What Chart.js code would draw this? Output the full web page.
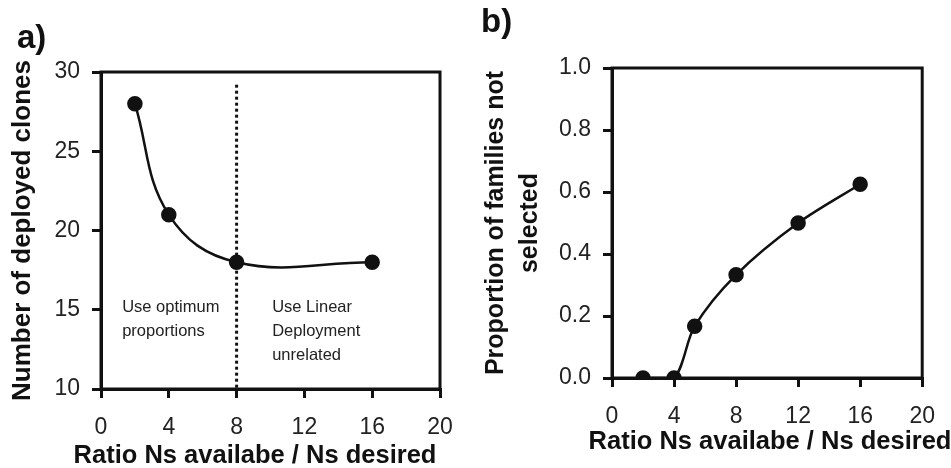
<!DOCTYPE html>
<html>
<head>
<meta charset="utf-8">
<script src="https://cdn.jsdelivr.net/npm/chart.js@4/dist/chart.umd.min.js"></script>
<style>
  html, body { margin: 0; padding: 0; background: #fff; }
  body { width: 951px; height: 468px; position: relative; overflow: hidden; font-family: "Liberation Sans", Arial, sans-serif; }
  .box { position: absolute; top: 0; height: 468px; }
  .panel { position: absolute; font-weight: bold; color: #111; line-height: 1; }
</style>
</head>
<body>
<div class="box" style="left:0;width:475px"><canvas id="chartA"></canvas></div>
<div class="box" style="left:475px;width:476px"><canvas id="chartB"></canvas></div>
<div class="panel" style="left:17px;top:20px;font-size:33px">a)</div>
<div class="panel" style="left:481px;top:4px;font-size:33px">b)</div>
<script>
// panel a
const ratioA = [2, 4, 8, 16];
const clonesA = [28, 21, 18, 18];
const splitX = 8;
const splitTop = 29.2;
const noteLeft = ['Use optimum', 'proportions'];
const noteRight = ['Use Linear', 'Deployment', 'unrelated'];

// panel b
const ratioB = [2, 4, 5.33, 8, 12, 16];
const notSelectedB = [0, 0, 0.167, 0.333, 0.5, 0.625];

const xTitle = 'Ratio Ns availabe / Ns desired';
const ink = '#111';
const fam = '"Liberation Sans", Arial, sans-serif';

// box round the plot area
const frame = {
  id: 'frame',
  afterDraw(chart) {
    const { ctx, chartArea: a } = chart;
    ctx.save();
    ctx.strokeStyle = ink;
    ctx.lineWidth = 3;
    ctx.strokeRect(a.left, a.top, a.right - a.left, a.bottom - a.top);
    ctx.restore();
  }
};

// x title is wider than the axis, chart.js would squeeze it, so draw it here
const xLabel = {
  id: 'xLabel',
  afterDraw(chart, args, opts) {
    const { ctx } = chart;
    ctx.save();
    ctx.fillStyle = ink;
    ctx.font = 'bold 25.5px ' + fam;
    ctx.textAlign = 'center';
    ctx.textBaseline = 'middle';
    ctx.fillText(xTitle, opts.x, opts.y);
    ctx.restore();
  }
};

// two small notes either side of the dotted line
const notes = {
  id: 'notes',
  afterDatasetsDraw(chart) {
    const { ctx, scales } = chart;
    ctx.save();
    ctx.fillStyle = '#222';
    ctx.font = '16.5px ' + fam;
    ctx.textBaseline = 'middle';
    const put = (lines, xv) => {
      const x = scales.x.getPixelForValue(xv);
      const y0 = scales.y.getPixelForValue(15.15);
      lines.forEach((s, i) => ctx.fillText(s, x, y0 + i * 24));
    };
    put(noteLeft, 1.25);
    put(noteRight, 10.1);
    ctx.restore();
  }
};

function axes(yMin, yMax, yStep, yW, xH, yTitle, yTitleFont, yTitlePad, fmt) {
  const tickFont = { family: fam, size: 23 };
  return {
    x: {
      type: 'linear', min: 0, max: 20,
      ticks: { stepSize: 4, color: '#222', font: tickFont, padding: 16 },
      grid: { drawOnChartArea: false, drawTicks: true, tickLength: 9, color: ink, lineWidth: 3 },
      border: { display: true, color: ink, width: 3 },
      afterFit(s) { s.height = xH; }
    },
    y: {
      type: 'linear', min: yMin, max: yMax,
      ticks: { stepSize: yStep, color: '#222', font: tickFont, padding: 12, callback: fmt },
      grid: { drawOnChartArea: false, drawTicks: true, tickLength: 9, color: ink, lineWidth: 3 },
      border: { display: true, color: ink, width: 3 },
      title: { display: true, text: yTitle, color: ink, font: yTitleFont, padding: { top: yTitlePad, bottom: 0 } },
      afterFit(s) { s.width = yW; }
    }
  };
}

const lineStyle = {
  borderColor: ink, backgroundColor: ink, borderWidth: 2.5,
  pointRadius: 6.5, pointHoverRadius: 6.5, pointBackgroundColor: ink, pointBorderColor: ink,
  tension: 0.4, fill: false
};

new Chart(document.getElementById('chartA'), {
  type: 'line',
  data: {
    datasets: [
      Object.assign({ data: ratioA.map((x, i) => ({ x, y: clonesA[i] })) }, lineStyle),
      {
        data: [{ x: splitX, y: splitTop }, { x: splitX, y: 10 }],
        borderColor: ink, borderWidth: 3, borderDash: [3, 3], pointRadius: 0, tension: 0
      }
    ]
  },
  options: {
    responsive: true, maintainAspectRatio: false, animation: false,
    layout: { padding: { top: 72, right: 35, left: 0, bottom: 0 } },
    plugins: { legend: { display: false }, tooltip: { enabled: false }, xLabel: { x: 255, y: 456 } },
    scales: axes(10, 30, 5, 101, 79, 'Number of deployed clones',
      { family: fam, size: 26, weight: 'bold', lineHeight: 1.2 }, 7,
      v => v)
  },
  plugins: [frame, notes, xLabel]
});

new Chart(document.getElementById('chartB'), {
  type: 'line',
  data: {
    datasets: [
      Object.assign({ data: ratioB.map((x, i) => ({ x, y: notSelectedB[i] })) }, lineStyle, { tension: 0.3 })
    ]
  },
  options: {
    responsive: true, maintainAspectRatio: false, animation: false,
    layout: { padding: { top: 68, right: 22, left: 0, bottom: 0 } },
    plugins: { legend: { display: false }, tooltip: { enabled: false }, xLabel: { x: 295, y: 442 } },
    scales: axes(0, 1, 0.2, 137, 90, ['Proportion of families not', 'selected'],
      { family: fam, size: 25, weight: 'bold', lineHeight: 1.36 }, 4,
      v => v.toFixed(1))
  },
  plugins: [frame, xLabel]
});
</script>
</body>
</html>
